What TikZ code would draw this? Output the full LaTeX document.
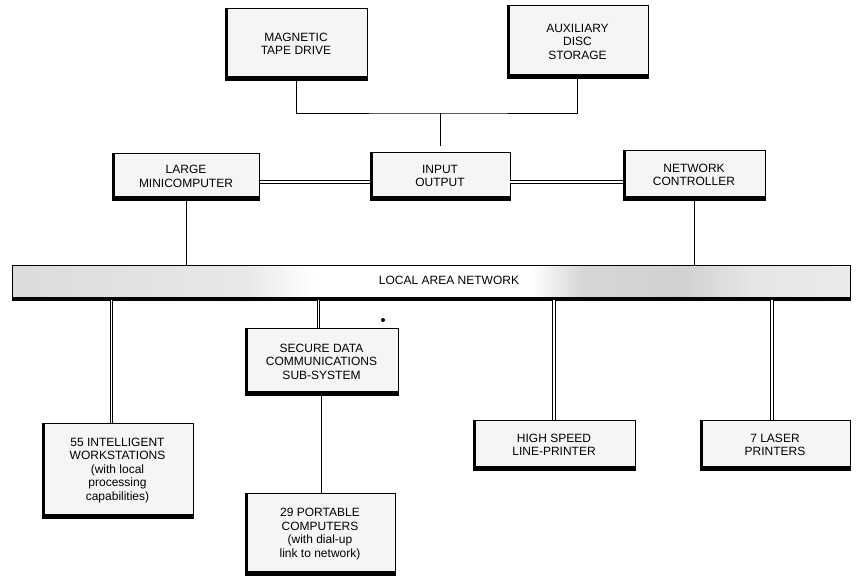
\documentclass[tikz,border=0pt]{standalone}
\usepackage{fontspec}
\setmainfont{Liberation Sans}
\pgfdeclarehorizontalshading{lanshade}{100bp}{color(0bp)=(black!14); color(25bp)=(black!14); color(39bp)=(black!9); color(43bp)=(white); color(56bp)=(white); color(59bp)=(black!16); color(65bp)=(black!18); color(69bp)=(black!10); color(75bp)=(black!8); color(100bp)=(black!8)}
\begin{document}
\begin{tikzpicture}[x=1pt,y=-1pt,
  txt/.style={font=\fontsize{12}{13.5}\selectfont},
  box/.style={txt, draw=black, line width=0.9pt, fill=black!4, align=center, inner sep=2pt,
    path picture={
      \draw[line width=5pt] (path picture bounding box.north west) -- (path picture bounding box.south west);
      \draw[line width=8pt] (path picture bounding box.south west) -- (path picture bounding box.south east);}},
  lanbar/.style={draw=black, line width=0.9pt, shading=lanshade, inner sep=0pt},
  thickedge/.style={line width=4pt, line cap=butt},
  link/.style={line width=1pt},
  dlink/.style={double, double distance=1.5pt, line width=0.9pt}]
\useasboundingbox (0,0) rectangle (860,586);

% top row
\node[box, minimum width=142pt, minimum height=72pt] (tape) at (296,44) {MAGNETIC\\TAPE DRIVE};
\node[box, minimum width=141pt, minimum height=73pt] (aux) at (577.5,41.5) {AUXILIARY\\DISC\\STORAGE};

% middle row
\node[box, minimum width=147pt, minimum height=47pt] (mini) at (186,176.5) {LARGE\\MINICOMPUTER};
\node[box, minimum width=140pt, minimum height=48pt] (io) at (440,176) {INPUT\\OUTPUT};
\node[box, minimum width=142pt, minimum height=50pt] (net) at (694,175) {NETWORK\\CONTROLLER};

% LAN
\node[lanbar, minimum width=838pt, minimum height=35pt] (lan) at (431,282.5) {};
\draw[thickedge] ([yshift=1.6pt]lan.south west) -- ([yshift=1.6pt]lan.south east);
\node[txt] (lanlbl) at (449,280) {LOCAL AREA NETWORK};

% bottom boxes
\node[box, minimum width=151pt, minimum height=95pt] (ws) at (117.5,470.5) {55 INTELLIGENT\\WORKSTATIONS\\(with local\\processing\\capabilities)};
\node[box, minimum width=153pt, minimum height=67pt] (sec) at (321.5,361.5) {SECURE DATA\\COMMUNICATIONS\\SUB-SYSTEM};
\node[box, minimum width=150pt, minimum height=82pt] (port) at (320,534) {29 PORTABLE\\COMPUTERS\\(with dial-up\\link to network)};
\node[box, minimum width=162pt, minimum height=50pt] (hsp) at (554,445) {HIGH SPEED\\LINE-PRINTER};
\node[box, minimum width=150pt, minimum height=50pt] (laser) at (775,445) {7 LASER\\PRINTERS};

\node[circle, fill=black, inner sep=0pt, minimum size=4pt] (dot) at (383,320) {};

% connectors top
\coordinate (bus) at (440,113);
\draw[link] (tape.south) |- (bus) -| (aux.south);
\draw[link, shorten >=6pt] (bus) -- (io.north);

% double links middle
\draw[dlink] ([yshift=-5.5pt]mini.east) -- ([yshift=-5.5pt]mini.east -| io.west);
\draw[dlink] ([yshift=-6pt]io.east) -- ([yshift=-6pt]io.east -| net.west);

% drops to LAN
\draw[link] (mini.south) -- (mini.south |- lan.north);
\draw[link] (net.south) -- (net.south |- lan.north);

% drops from LAN
\draw[dlink] ([xshift=-6pt]ws.north |- lan.south) -- ([xshift=-6pt]ws.north);
\draw[dlink] ([xshift=-3pt]sec.north |- lan.south) -- ([xshift=-3pt]sec.north);
\draw[dlink] (hsp.north |- lan.south) -- (hsp.north);
\draw[dlink] ([xshift=-3pt]laser.north |- lan.south) -- ([xshift=-3pt]laser.north);
\draw[link] (sec.south) -- (sec.south |- port.north);
\end{tikzpicture}
\end{document}
